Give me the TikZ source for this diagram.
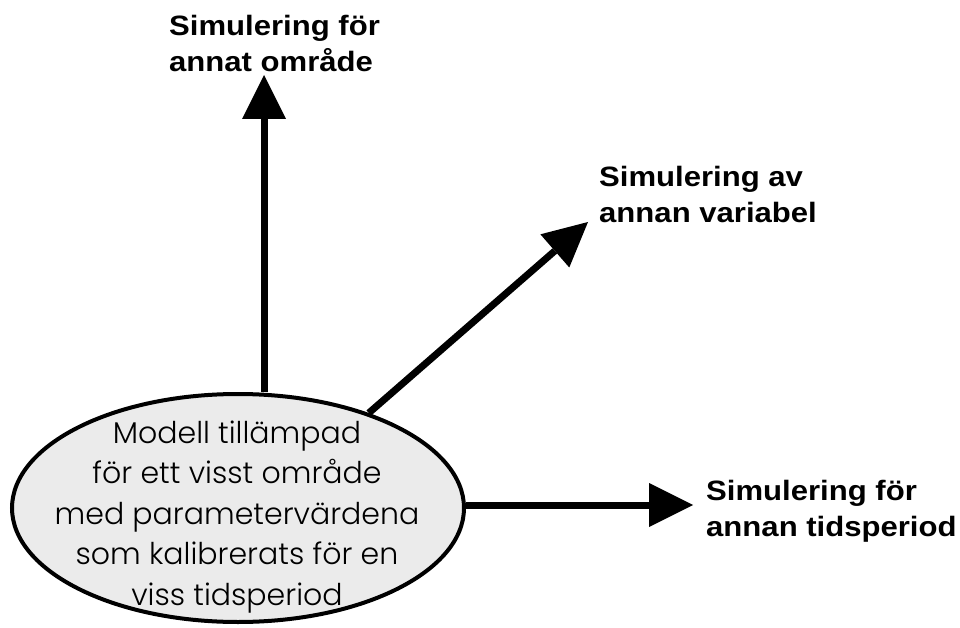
\documentclass[tikz,border=0pt]{standalone}
\usepackage{fontspec}
\usetikzlibrary{arrows.meta,shapes.geometric}
\newfontfamily\labfont[FakeStretch=1.11]{Liberation Sans}
\newfontfamily\ellfont{Poppins Light}
\definecolor{ellgray}{RGB}{235,235,235}
\begin{document}
\begin{tikzpicture}[x=1pt,y=-1pt,
  lab/.style={font=\labfont\bfseries\fontsize{28}{36}\selectfont, align=left, inner sep=0pt, anchor=north west},
  arr/.style={line width=7pt, -{Triangle[length=44pt,width=44pt,line width=0pt]}},
  modelbox/.style={ellipse, draw, line width=4pt, fill=ellgray, minimum width=452pt, minimum height=228pt, inner sep=0pt},
  modeltext/.style={font=\ellfont\fontsize{30}{40.5}\selectfont, align=center, inner sep=0pt}
]
\useasboundingbox (0,0) rectangle (960,628);
\node[modelbox] (model) at (238,508) {};
\node[modeltext] (mtext) at (237,517) {Modell tillämpad\\för ett visst område\\med parametervärdena\\som kalibrerats för en\\viss tidsperiod};
\coordinate (t1) at (264,75);
\coordinate (t2) at (588,222);
\coordinate (t3) at (693,505);
\draw[arr] (model.north -| t1) -- (t1);
\draw[arr] (model.36) -- (t2);
\draw[arr] (model.east |- t3) -- (t3);
\node[lab] (l1) at (169,15) {Simulering för\\annat område};
\node[lab] (l2) at (599,166.5) {Simulering av\\annan variabel};
\node[lab] (l3) at (706,480.5) {Simulering för\\annan tidsperiod};
\end{tikzpicture}
\end{document}
